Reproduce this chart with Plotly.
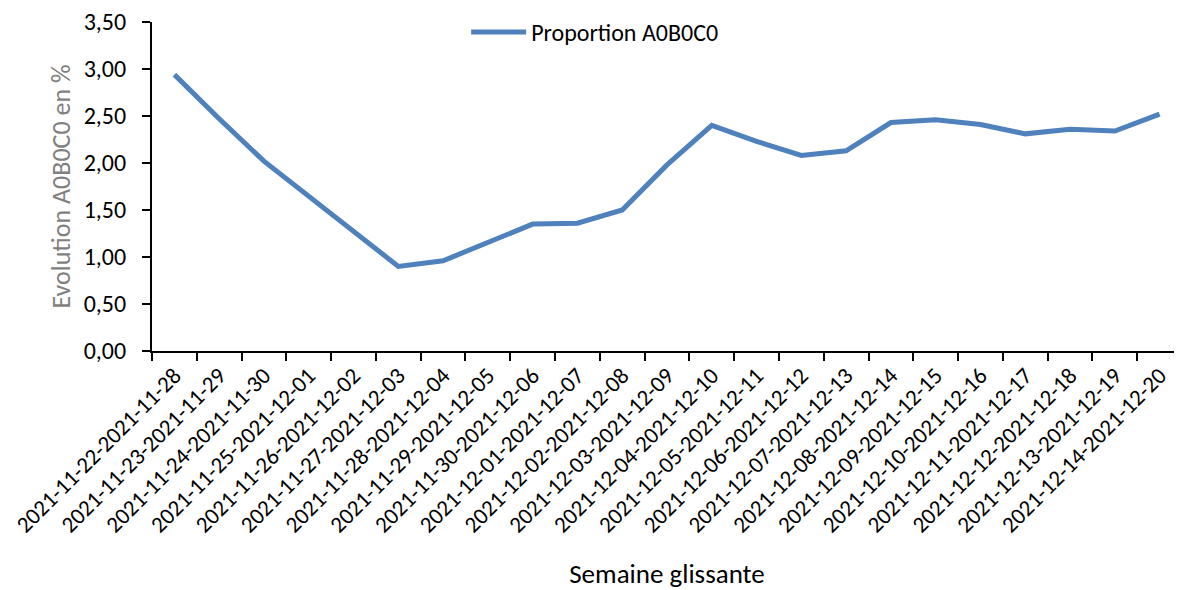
import plotly.graph_objects as go

categories = [
    "2021-11-22-2021-11-28", "2021-11-23-2021-11-29", "2021-11-24-2021-11-30",
    "2021-11-25-2021-12-01", "2021-11-26-2021-12-02", "2021-11-27-2021-12-03",
    "2021-11-28-2021-12-04", "2021-11-29-2021-12-05", "2021-11-30-2021-12-06",
    "2021-12-01-2021-12-07", "2021-12-02-2021-12-08", "2021-12-03-2021-12-09",
    "2021-12-04-2021-12-10", "2021-12-05-2021-12-11", "2021-12-06-2021-12-12",
    "2021-12-07-2021-12-13", "2021-12-08-2021-12-14", "2021-12-09-2021-12-15",
    "2021-12-10-2021-12-16", "2021-12-11-2021-12-17", "2021-12-12-2021-12-18",
    "2021-12-13-2021-12-19", "2021-12-14-2021-12-20",
]
proportion = [2.94, 2.47, 2.02, 1.65, 1.28, 0.90, 0.96, 1.15, 1.35, 1.36, 1.50,
              1.98, 2.40, 2.23, 2.08, 2.13, 2.43, 2.46, 2.41, 2.31, 2.36, 2.34, 2.52]
y_ticks = [0, 0.5, 1.0, 1.5, 2.0, 2.5, 3.0, 3.5]

FONT = "Carlito, Lato, sans-serif"

fig = go.Figure()
fig.add_trace(go.Scatter(
    x=categories, y=proportion, mode="lines", name="Proportion A0B0C0",
    line=dict(color="#4F81BD", width=5),
))

fig.update_layout(
    width=1174, height=582,
    margin=dict(l=144, r=0, t=14, b=239, autoexpand=False),
    paper_bgcolor="white", plot_bgcolor="white",
    separators=",.",
    font=dict(family=FONT, color="black", size=20),
    showlegend=True,
    legend=dict(x=0.305, y=1.037, xanchor="left", yanchor="top", itemwidth=55,
                font=dict(size=24, family=FONT), bgcolor="rgba(0,0,0,0)"),
)
fig.update_xaxes(
    type="category", range=[-0.5, len(categories) - 0.5],
    showline=True, linecolor="black", linewidth=2,
    ticks="outside", tickson="boundaries", ticklen=8, tickcolor="black", tickwidth=2,
    tickangle=-45, tickfont=dict(size=23, family=FONT),
    showgrid=False, automargin=False,
    title=dict(text="Semaine glissante", font=dict(size=27, family=FONT), standoff=30),
)
fig.update_yaxes(
    range=[0, 3.5], tickvals=y_ticks, tickformat=".2f",
    showline=True, linecolor="black", linewidth=2,
    ticks="outside", ticklen=8, tickcolor="black", tickwidth=2,
    tickfont=dict(size=24, family=FONT), ticklabelstandoff=11,
    ticklabeloverflow="allow",
    showgrid=False, zeroline=False, automargin=False,
    title=dict(text="Evolution A0B0C0 en %", font=dict(size=26, family=FONT, color="#7F7F7F"), standoff=6),
)

fig.write_html("out.html")
